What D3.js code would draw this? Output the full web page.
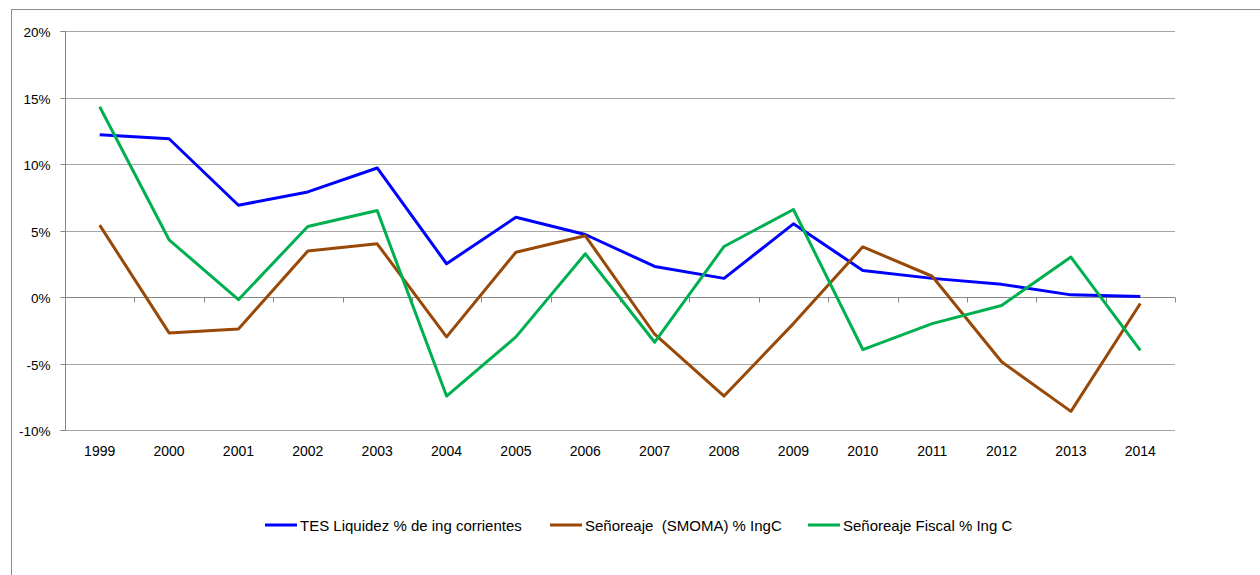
<!DOCTYPE html>
<html>
<head>
<meta charset="utf-8">
<script src="https://cdn.jsdelivr.net/npm/d3@7"></script>
<style>
  html, body { margin: 0; padding: 0; background: #fff; }
  svg { display: block; font-family: "Liberation Sans", Arial, sans-serif; }
</style>
</head>
<body>
<svg id="chart" width="1260" height="575"></svg>
<script>
const years = ["1999","2000","2001","2002","2003","2004","2005","2006","2007","2008","2009","2010","2011","2012","2013","2014"];
const tesLiquidez = [12.2, 11.9, 6.9, 7.9, 9.7, 2.5, 6.0, 4.7, 2.3, 1.4, 5.5, 2.0, 1.4, 0.95, 0.16, 0.03];
const senoreajeSmoma = [5.4, -2.7, -2.4, 3.45, 4.0, -3.0, 3.37, 4.6, -2.8, -7.45, -2.0, 3.77, 1.56, -4.87, -8.6, -0.49];
const senoreajeFiscal = [14.3, 4.3, -0.2, 5.3, 6.5, -7.45, -3.0, 3.25, -3.4, 3.8, 6.58, -3.95, -2.0, -0.64, 3.0, -4.02];
const yTicks = [-10, -5, 0, 5, 10, 15, 20];
const seriesNames = ["TES Liquidez % de ing corrientes", "Señoreaje  (SMOMA) % IngC", "Señoreaje Fiscal % Ing C"];
const seriesColors = ["#0000FF", "#984807", "#00B050"];

const series = [tesLiquidez, senoreajeSmoma, senoreajeFiscal];

const svg = d3.select("#chart");
const plotLeft = 65, plotRight = 1175, plotTop = 31, plotBottom = 430;

// outer chart border
svg.append("rect").attr("x", 11.5).attr("y", 9.5).attr("width", 1300).attr("height", 700)
  .attr("fill", "none").attr("stroke", "#8c8c8c").attr("stroke-width", 1);

const x = d3.scaleBand().domain(years).range([plotLeft, plotRight]).paddingInner(0).paddingOuter(0);
const y = d3.scaleLinear().domain([-10, 20]).range([plotBottom, plotTop]);
const py = v => Math.round(y(v)) + 0.5;

// gridlines
svg.append("g").selectAll("line").data(yTicks).join("line")
  .attr("x1", plotLeft).attr("x2", plotRight)
  .attr("y1", d => py(d)).attr("y2", d => py(d))
  .attr("stroke", d => d === 0 ? "#868686" : "#a6a6a6").attr("stroke-width", 1);

// y axis
const yAxis = d3.axisLeft(y).tickValues(yTicks).tickSize(5).tickFormat(d => d + "%");
const gy = svg.append("g").attr("transform", `translate(${plotLeft + 0.5},0)`).call(yAxis);
gy.select(".domain").attr("stroke", "#868686").attr("d", `M-5,${py(20)}H0V${py(-10)}H-5`);
gy.selectAll(".tick").attr("transform", d => `translate(0,${py(d)})`);
gy.selectAll(".tick line").attr("stroke", "#868686");
gy.selectAll(".tick text").attr("x", -15).attr("dy", "0.4em").attr("font-size", 13.5).attr("fill", "#000")
  .attr("font-family", "'Liberation Sans', Arial, sans-serif");

// category ticks at zero line
const boundaries = years.map(d => x(d)).concat([plotRight]);
svg.append("g").selectAll("line").data(boundaries).join("line")
  .attr("x1", d => Math.round(d) + 0.5).attr("x2", d => Math.round(d) + 0.5)
  .attr("y1", py(0)).attr("y2", py(0) + 5)
  .attr("stroke", "#868686");

// x labels
svg.append("g").selectAll("text").data(years).join("text")
  .attr("x", d => x(d) + x.bandwidth() / 2).attr("y", 456)
  .attr("text-anchor", "middle").attr("font-size", 14).attr("fill", "#000")
  .text(d => d);

// lines
const line = d3.line().x((d, i) => x(years[i]) + x.bandwidth() / 2).y(d => y(d));
svg.append("g").selectAll("path").data(series).join("path")
  .attr("d", d => line(d)).attr("fill", "none")
  .attr("stroke", (d, i) => seriesColors[i]).attr("stroke-width", 3)
  .attr("stroke-linejoin", "round").attr("stroke-linecap", "butt");

// legend
const legendX = [265, 550, 808];
const lg = svg.append("g").selectAll("g").data(seriesNames).join("g")
  .attr("transform", (d, i) => `translate(${legendX[i]},525)`);
lg.append("line").attr("x1", 0).attr("x2", 32).attr("y1", 0).attr("y2", 0)
  .attr("stroke", (d, i) => seriesColors[i]).attr("stroke-width", 3);
lg.append("text").attr("x", 35).attr("y", 6).attr("font-size", 15).attr("fill", "#000")
  .style("white-space", "pre").attr("xml:space", "preserve").text(d => d);
</script>
</body>
</html>
